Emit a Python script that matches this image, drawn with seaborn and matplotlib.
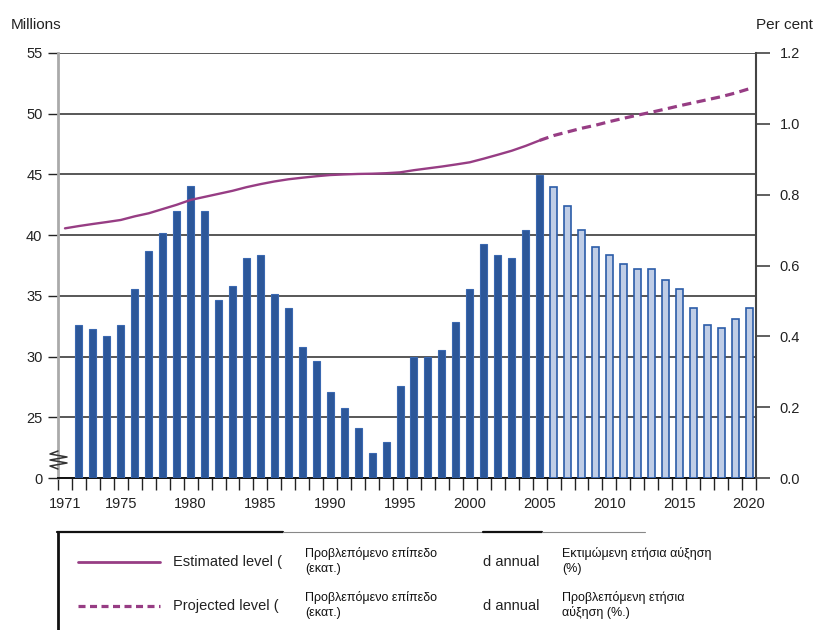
import matplotlib
matplotlib.use('Agg')
import numpy as np
import matplotlib.pyplot as plt
import matplotlib.transforms as mtransforms
from matplotlib.lines import Line2D
import seaborn as sns

# Population level (millions, left axis)
years_level_est = list(range(1971, 2006))
level_est = [40.56, 40.75, 40.92, 41.08, 41.25, 41.55, 41.80, 42.15, 42.50, 42.90,
             43.15, 43.40, 43.65, 43.95, 44.20, 44.42, 44.60, 44.73, 44.85, 44.95,
             45.00, 45.04, 45.06, 45.10, 45.17, 45.35, 45.50, 45.65, 45.82, 46.00,
             46.30, 46.62, 46.95, 47.35, 47.80]
years_level_proj = list(range(2005, 2021))
level_proj = [47.80, 48.20, 48.50, 48.80, 49.05, 49.35, 49.62, 49.88, 50.12, 50.38,
              50.65, 50.90, 51.15, 51.40, 51.70, 52.05]

# Annual growth (per cent, right axis)
years_growth_est = list(range(1972, 2006))
growth_est = [0.431, 0.422, 0.400, 0.431, 0.533, 0.642, 0.691, 0.753, 0.824, 0.753,
              0.502, 0.541, 0.620, 0.629, 0.519, 0.480, 0.370, 0.330, 0.242, 0.198,
              0.140, 0.071, 0.102, 0.260, 0.341, 0.341, 0.361, 0.440, 0.533, 0.660,
              0.630, 0.620, 0.700, 0.855]
years_growth_proj = list(range(2006, 2021))
growth_proj = [0.822, 0.769, 0.700, 0.652, 0.630, 0.603, 0.589, 0.589, 0.559, 0.533,
               0.479, 0.431, 0.423, 0.449, 0.479]

x_tick_years = [1971, 1975, 1980, 1985, 1990, 1995, 2000, 2005, 2010, 2015, 2020]
left_ticks = [20, 25, 30, 35, 40, 45, 50, 55]
left_tick_labels = ['0', '25', '30', '35', '40', '45', '50', '55']
right_ticks = [0.0, 0.2, 0.4, 0.6, 0.8, 1.0, 1.2]

purple = '#973d84'
dark_blue = '#2c5799'
light_blue = '#bfcde6'
edge_blue = '#2b5ca8'
ink = '#222222'

sns.set_theme(style='white')
plt.rcParams['font.family'] = ['Liberation Sans', 'DejaVu Sans']

W, H = 815, 630


def fx(px):
    return px / W


def fy(py):
    return 1 - py / H


fig = plt.figure(figsize=(8.15, 6.3), dpi=100)
ax = fig.add_axes([fx(58), fy(478), (756 - 58) / W, (478 - 53) / H])
axb = ax.twinx()
axl = ax.twinx()

# bars on the per cent scale
sns.barplot(x=years_growth_est, y=growth_est, native_scale=True, width=0.5,
            color=dark_blue, edgecolor='#3a68b0', linewidth=0.8, saturation=1,
            errorbar=None, ax=axb)
sns.barplot(x=years_growth_proj, y=growth_proj, native_scale=True, width=0.5,
            color=light_blue, edgecolor=edge_blue, linewidth=1.2, saturation=1,
            errorbar=None, ax=axb)

# level lines on the millions scale
sns.lineplot(x=years_level_est, y=level_est, color=purple, linewidth=1.7, ax=axl)
sns.lineplot(x=years_level_proj, y=level_proj, color=purple, linewidth=2.3, ax=axl)
axl.lines[-1].set_dashes([2.9, 1.7])

ax.set_ylim(20, 55)
axl.set_ylim(20, 55)
axb.set_ylim(0, 1.2)
ax.set_xlim(1970.5, 2020.5)

for a in (ax, axb, axl):
    a.set_xlabel('')
    a.set_ylabel('')
    for s in a.spines.values():
        s.set_visible(False)

# left axis (millions)
ax.set_yticks(left_ticks, left_tick_labels)
ax.tick_params(axis='y', which='major', left=True, length=7.2, width=1,
               color=ink, pad=4, labelsize=10.5, labelcolor=ink)
ax.yaxis.grid(True, color='#2a2a2a', linewidth=1.1)
ax.spines['left'].set_visible(True)
ax.spines['left'].set_color('#aaaaaa')
ax.spines['left'].set_linewidth(2)
ax.spines['bottom'].set_visible(True)
ax.spines['bottom'].set_color('#111111')
ax.spines['bottom'].set_linewidth(1.4)

# x axis: labels centred on years, marks at year boundaries
ax.set_xticks(x_tick_years, [str(y) for y in x_tick_years])
ax.set_xticks(np.arange(1970.5, 2021, 1), minor=True)
ax.tick_params(axis='x', which='major', bottom=False, length=0, pad=14,
               labelsize=10.5, labelcolor=ink)
ax.tick_params(axis='x', which='minor', bottom=True, length=8.6, width=1, color=ink)

# right axis (per cent)
axb.set_yticks(right_ticks, [f'{v:.1f}' for v in right_ticks])
axb.tick_params(axis='y', right=True, length=10, width=1.2, color='#444444',
                pad=7, labelsize=10.5, labelcolor=ink)
axb.spines['right'].set_visible(True)
axb.spines['right'].set_color('#444444')
axb.spines['right'].set_linewidth(1.5)

axl.set_yticks([])
axl.tick_params(axis='both', length=0)

# axis break zigzag
blend = mtransforms.blended_transform_factory(ax.transAxes, ax.transData)
zz_px = [(0, 451), (-8, 454), (9, 457), (-8, 460), (9, 463), (-8, 466), (0, 469)]
zz_x = [p[0] / (756 - 58) for p in zz_px]
zz_y = [20 + (478 - p[1]) / 12.143 for p in zz_px]
ax.plot(zz_x, zz_y, color='#333333', lw=1.1, transform=blend, clip_on=False, zorder=5)

fig.text(fx(11), fy(25), 'Millions', ha='left', va='center', fontsize=11, color=ink)
fig.text(fx(813), fy(25), 'Per cent', ha='right', va='center', fontsize=11, color=ink)

# legend panel
fig.add_artist(Line2D([fx(58), fx(58)], [fy(532), fy(630)], color='#111111', lw=2))
fig.add_artist(Line2D([fx(57), fx(283)], [fy(532), fy(532)], color='#111111', lw=1.6))
fig.add_artist(Line2D([fx(283), fx(483)], [fy(532), fy(532)], color='#888888', lw=0.8))
fig.add_artist(Line2D([fx(483), fx(542)], [fy(532), fy(532)], color='#111111', lw=1.6))
fig.add_artist(Line2D([fx(542), fx(645)], [fy(532), fy(532)], color='#888888', lw=0.8))

fig.add_artist(Line2D([fx(78), fx(160)], [fy(562), fy(562)], color=purple, lw=2))
dash = Line2D([fx(78), fx(160)], [fy(606), fy(606)], color=purple, lw=2.3)
dash.set_dashes([2.2, 1.4])
fig.add_artist(dash)

fig.text(fx(173), fy(562), 'Estimated level (', ha='left', va='center', fontsize=10.5, color=ink)
fig.text(fx(173), fy(606), 'Projected level (', ha='left', va='center', fontsize=10.5, color=ink)
fig.text(fx(483), fy(562), 'd annual', ha='left', va='center', fontsize=10.5, color=ink)
fig.text(fx(483), fy(606), 'd annual', ha='left', va='center', fontsize=10.5, color=ink)

greek = ['Liberation Sans', 'DejaVu Sans']
fig.text(fx(305), fy(561), 'Προβλεπόμενο επίπεδο\n(εκατ.)', ha='left', va='center',
         fontsize=9, color='#111111', family=greek, linespacing=1.25)
fig.text(fx(305), fy(605), 'Προβλεπόμενο επίπεδο\n(εκατ.)', ha='left', va='center',
         fontsize=9, color='#111111', family=greek, linespacing=1.25)
fig.text(fx(562), fy(561), 'Εκτιμώμενη ετήσια αύξηση\n(%)', ha='left', va='center',
         fontsize=9, color='#111111', family=greek, linespacing=1.25)
fig.text(fx(562), fy(605), 'Προβλεπόμενη ετήσια\nαύξηση (%.)', ha='left', va='center',
         fontsize=9, color='#111111', family=greek, linespacing=1.25)

fig.savefig('out.png', dpi=100)
plt.close(fig)
